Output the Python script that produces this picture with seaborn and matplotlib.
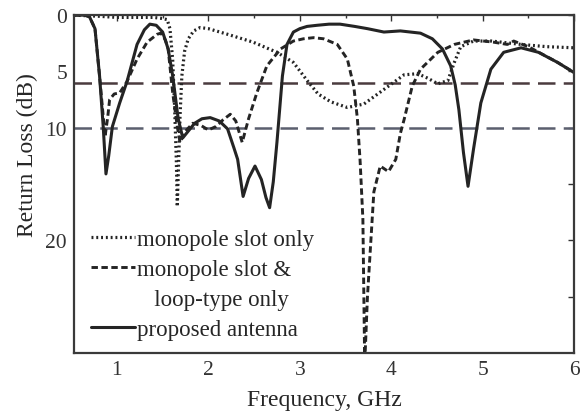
import matplotlib
matplotlib.use("Agg")
import matplotlib.pyplot as plt
import seaborn as sns
from matplotlib.lines import Line2D
from matplotlib.ticker import MultipleLocator

# monopole slot only (dotted)
x_slot = [0.53, 0.8, 1.0, 1.2, 1.4, 1.5, 1.55, 1.58, 1.61, 1.63, 1.65, 1.66, 1.675, 1.69,
          1.71, 1.74, 1.78, 1.84, 1.91, 2.0, 2.21, 2.49, 2.75, 2.93, 3.08, 3.20, 3.34, 3.52,
          3.70, 3.92, 4.14, 4.29, 4.40, 4.51, 4.62, 4.69, 4.76, 4.90, 5.1, 5.42, 5.7, 6.0]
y_slot = [0.0, 0.1, 0.2, 0.2, 0.2, 0.3, 0.4, 1.2, 4.0, 8.0, 13.0, 17.0, 13.0, 9.0,
          5.4, 3.2, 2.1, 1.4, 1.1, 1.2, 1.7, 2.4, 3.3, 4.2, 5.8, 7.0, 7.7, 8.2,
          7.9, 6.6, 5.3, 5.2, 5.6, 6.1, 5.8, 4.2, 2.8, 2.3, 2.3, 2.6, 2.8, 2.9]

# monopole slot & loop-type only (dashed)
x_loop = [0.53, 0.65, 0.70, 0.76, 0.81, 0.85, 0.87, 0.90, 0.92, 0.97, 1.03, 1.11, 1.22,
          1.33, 1.44, 1.48, 1.53, 1.56, 1.61, 1.66, 1.69, 1.75, 1.83, 1.92, 2.0, 2.08,
          2.16, 2.24, 2.30, 2.37, 2.44, 2.53, 2.64, 2.79, 2.93, 3.04, 3.15, 3.26, 3.41,
          3.52, 3.59, 3.63, 3.66, 3.69, 3.71, 3.74, 3.77, 3.81, 3.88, 3.97, 4.05, 4.10,
          4.14, 4.23, 4.32, 4.51, 4.69, 4.90, 5.12, 5.27, 5.34, 5.50, 5.82, 6.0]
y_loop = [0.0, 0.0, 0.15, 1.2, 5.4, 9.0, 10.8, 9.0, 7.5, 7.0, 6.9, 5.9, 3.9,
          2.4, 1.7, 1.6, 2.2, 3.0, 6.9, 9.9, 11.3, 10.3, 9.6, 9.8, 10.2, 9.9,
          9.3, 8.8, 9.4, 11.3, 9.2, 6.9, 4.5, 3.0, 2.3, 2.1, 2.0, 2.1, 2.6,
          3.9, 6.3, 9.2, 13.0, 18.1, 31.0, 25.0, 21.0, 15.7, 13.4, 13.9, 12.8, 10.5,
          9.3, 6.3, 4.8, 3.3, 2.6, 2.2, 2.4, 2.6, 2.3, 2.8, 4.2, 5.1]

# proposed antenna (solid)
x_prop = [0.53, 0.65, 0.70, 0.76, 0.81, 0.85, 0.88, 0.91, 0.95, 1.03, 1.11, 1.22, 1.30,
          1.36, 1.43, 1.50, 1.56, 1.61, 1.67, 1.72, 1.78, 1.85, 1.93, 2.02, 2.12, 2.21,
          2.28, 2.32, 2.38, 2.44, 2.51, 2.58, 2.63, 2.67, 2.71, 2.75, 2.81, 2.86, 2.93,
          3.0, 3.08, 3.19, 3.32, 3.44, 3.6, 3.74, 3.92, 4.10, 4.32, 4.45, 4.56, 4.65,
          4.70, 4.74, 4.79, 4.84, 4.90, 4.98, 5.09, 5.23, 5.42, 5.61, 5.82, 6.0]
y_prop = [0.0, 0.0, 0.15, 1.2, 5.4, 9.9, 14.1, 12.5, 9.9, 7.8, 5.9, 2.6, 1.3,
          0.8, 0.9, 1.5, 3.0, 5.4, 9.2, 10.9, 10.3, 9.6, 9.2, 9.1, 9.4, 10.1,
          11.8, 12.8, 16.1, 14.5, 13.4, 14.6, 16.2, 17.1, 14.8, 11.3, 5.4, 2.6, 1.5,
          1.2, 1.0, 0.9, 0.8, 0.8, 1.0, 1.2, 1.5, 1.4, 1.6, 2.1, 3.0, 4.5,
          6.2, 8.4, 12.2, 15.2, 11.9, 7.8, 4.8, 3.3, 2.9, 3.3, 4.2, 5.1]

ref_levels = [6, 10]
ref_colors = ["#4a3b3e", "#5b5f6e"]

sns.set_style("white")
plt.rcParams["font.family"] = ["Liberation Serif", "DejaVu Serif"]

fig = plt.figure(figsize=(5.87, 4.14), dpi=100)
ax = fig.add_axes([0.126, 0.145, 0.852, 0.816])

ink = "#242424"
for lvl, c in zip(ref_levels, ref_colors):
    ax.axhline(lvl, color=c, lw=1.8, ls=(0, (7, 3.3)), zorder=1)

sns.lineplot(x=x_slot, y=y_slot, ax=ax, sort=False, color=ink, lw=2.3,
             linestyle=(0, (0.6, 0.9)), label="monopole slot only")
sns.lineplot(x=x_loop, y=y_loop, ax=ax, sort=False, color=ink, lw=2.1,
             linestyle=(0, (2.2, 1.2)), label="monopole slot &")
sns.lineplot(x=x_prop, y=y_prop, ax=ax, sort=False, color=ink, lw=2.2,
             linestyle="-", label="proposed antenna")

ax.set_xlim(0.53, 6)
ax.set_ylim(30, 0)
ax.set_xticks([1, 2, 3, 4, 5, 6])
ax.xaxis.set_minor_locator(MultipleLocator(0.5))
ax.set_yticks([0, 5, 10, 15, 20, 25])
ax.set_yticklabels(["0", "5", "10", "", "20", ""])
ax.tick_params(direction="in", which="both", top=True, right=True,
               labelsize=15.5, colors="#333333", length=4, width=1, pad=5)
ax.tick_params(which="minor", length=2.5)
for sp in ax.spines.values():
    sp.set_color("#3a3a3a")
    sp.set_linewidth(1.6)

ax.set_xlabel("Frequency, GHz", fontsize=17, color="#262626", labelpad=7)
ax.set_ylabel("Return Loss (dB)", fontsize=17, color="#262626")
ax.yaxis.set_label_coords(-0.071, 0.59)

# the second label wraps onto its own row, without a line sample
handles, labels = ax.get_legend_handles_labels()
handles.insert(2, Line2D([], [], linestyle="none"))
labels.insert(2, "   loop-type only")
leg = ax.legend(handles, labels, loc="upper left", bbox_to_anchor=(0.035, 0.368),
                frameon=False, fontsize=16.5, handlelength=1.9, handletextpad=0.08,
                labelspacing=0.4, borderaxespad=0.0, borderpad=0.0)
for t in leg.get_texts():
    t.set_color("#262626")

fig.savefig("out.png", dpi=100)
